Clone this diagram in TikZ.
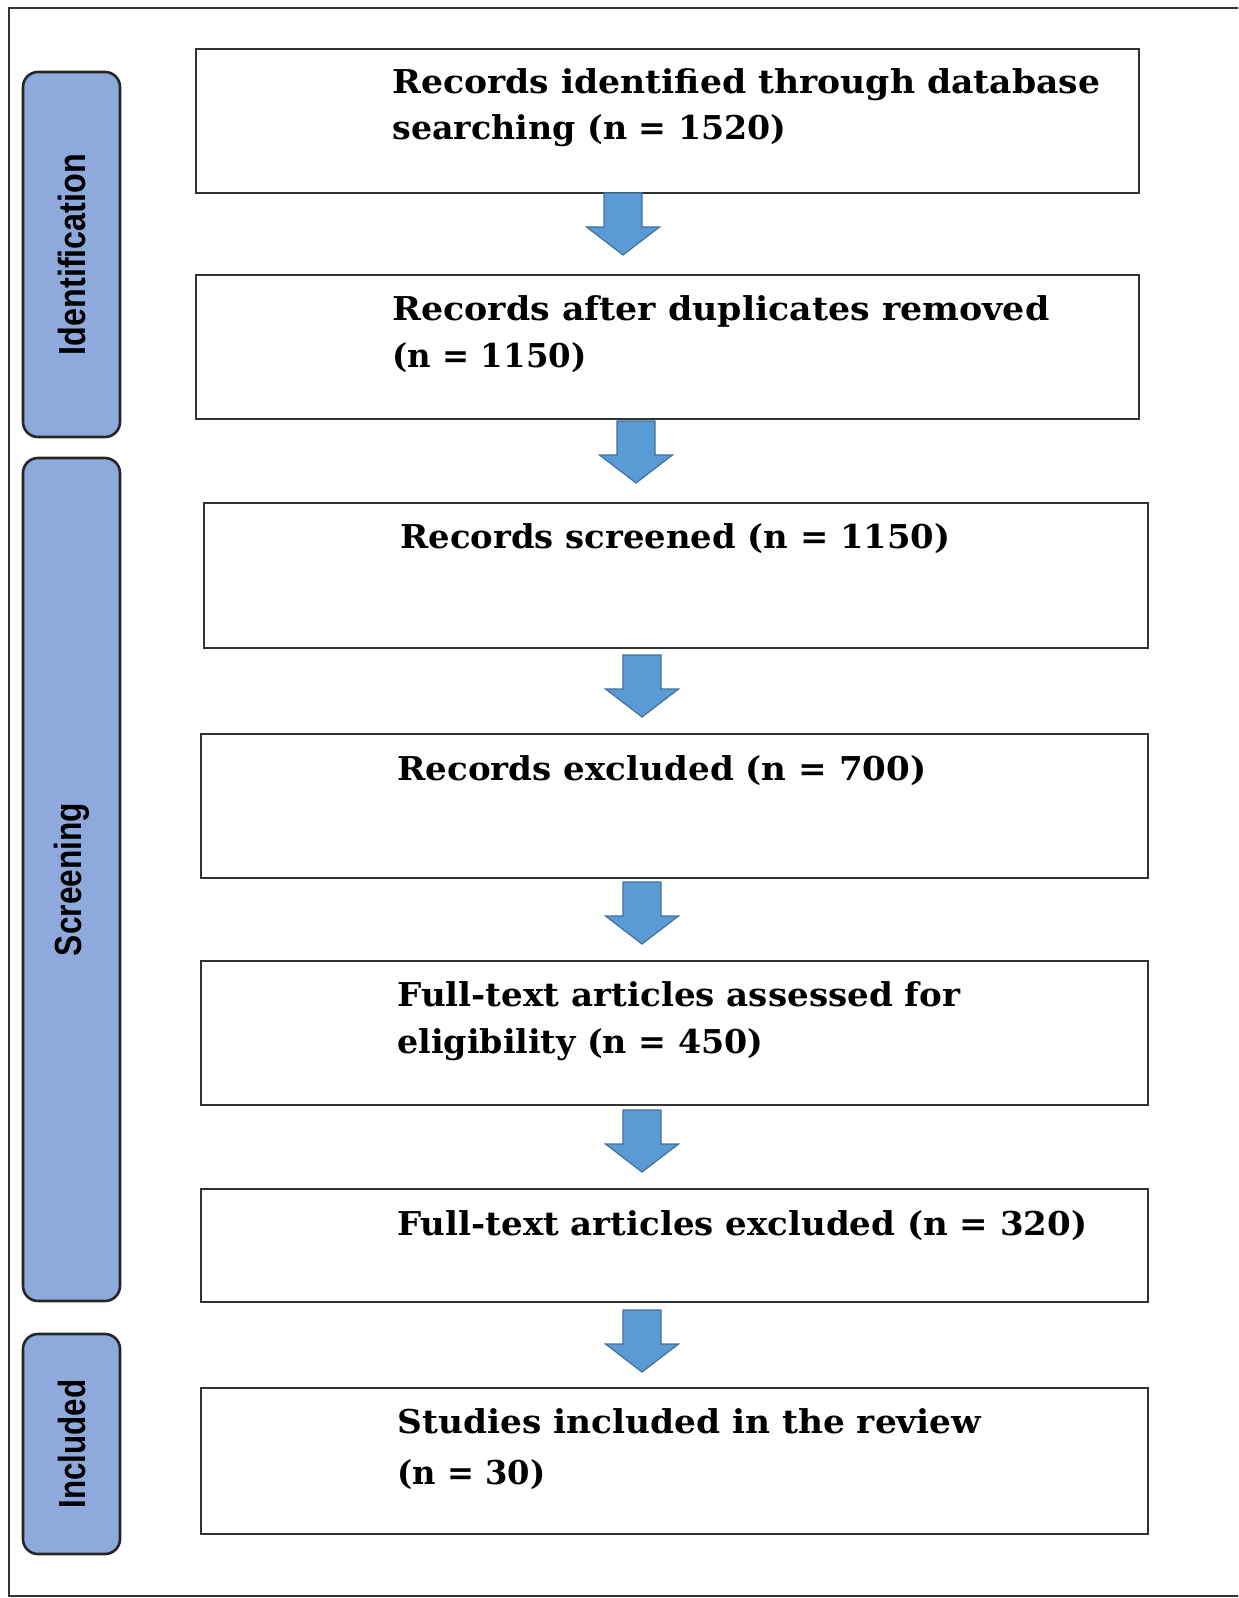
\documentclass[tikz,border=0pt]{standalone}
\usepackage{fontspec}
\usepackage{graphicx}
\setmainfont{DejaVu Serif}
\newfontfamily\sidefont{Liberation Sans}
\definecolor{sidefill}{HTML}{8EA9DB}
\definecolor{arrfill}{HTML}{5B9BD5}
\definecolor{arrline}{HTML}{41719C}
\definecolor{frameline}{HTML}{333333}
\newcommand\fitw[2]{\resizebox{#1pt}{\height}{#2}}
\newcommand\blockarrow[3]{%
  \coordinate (#1) at (#2,#3);
  \draw[blockarr] (#1) ++(-19,0) -- ++(38,0) -- ++(0,34) -- ++(17.5,0)
    -- ++(-36.5,28) -- ++(-36.5,-28) -- ++(17.5,0) -- cycle;}
\begin{document}
\begin{tikzpicture}[x=0.5pt,y=-0.5pt,
  mainbox/.style={draw=frameline, line width=1pt, fill=white, rectangle, inner sep=0pt},
  sidebox/.style={draw=black!85, line width=1.3pt, fill=sidefill, rectangle, rounded corners=7.5pt, inner sep=0pt},
  boxtext/.style={anchor=base west, inner sep=0pt, font=\fontsize{16.4}{19}\selectfont\bfseries},
  sidetext/.style={rotate=90, inner sep=0pt, font=\sidefont\fontsize{18.9}{22}\selectfont\bfseries},
  blockarr/.style={fill=arrfill, draw=arrline, line width=0.6pt, line join=miter}]
\clip (0,0) rectangle (1238,1598);
\fill[white] (0,0) rectangle (1238,1598);
\draw[frameline, line width=1pt] (9,8) rectangle (1260,1596);

% side phase boxes
\node[sidebox, minimum width=48.5pt, minimum height=182.5pt] (sid) at (71.5,254.5) {};
\node[sidebox, minimum width=48.5pt, minimum height=421.5pt] (ssc) at (71.5,879.5) {};
\node[sidebox, minimum width=48.5pt, minimum height=110pt] (sin) at (71.5,1444) {};
\node[sidetext] (lid) at (sid.center) {\fitw{100.5}{Identification}};
\node[sidetext] (lsc) at (ssc.center) {\fitw{76.5}{Screening}};
\node[sidetext] (lin) at (sin.center) {\fitw{64.5}{Included}};

% main boxes
\node[mainbox, minimum width=471.5pt, minimum height=72pt] (b1) at (667.5,121) {};
\node[mainbox, minimum width=471.5pt, minimum height=72pt] (b2) at (667.5,347) {};
\node[mainbox, minimum width=472pt, minimum height=72.5pt] (b3) at (676,575.5) {};
\node[mainbox, minimum width=473.5pt, minimum height=72pt] (b4) at (674.5,806) {};
\node[mainbox, minimum width=473.5pt, minimum height=72pt] (b5) at (674.5,1033) {};
\node[mainbox, minimum width=473.5pt, minimum height=56.5pt] (b6) at (674.5,1245.5) {};
\node[mainbox, minimum width=473.5pt, minimum height=73pt] (b7) at (674.5,1461) {};

% texts
\node[boxtext] (t1a) at (392,94) {\fitw{354}{Records identified through database}};
\node[boxtext] (t1b) at (392,140) {\fitw{197}{searching (n = 1520)}};
\node[boxtext] (t2a) at (392,321) {\fitw{328.5}{Records after duplicates removed}};
\node[boxtext] (t2b) at (392,368) {\fitw{97}{(n = 1150)}};
\node[boxtext] (t3) at (400,549) {\fitw{275}{Records screened (n = 1150)}};
\node[boxtext] (t4) at (397,780) {\fitw{264.5}{Records excluded (n = 700)}};
\node[boxtext] (t5a) at (397,1006) {\fitw{281.5}{Full-text articles assessed for}};
\node[boxtext] (t5b) at (397,1053) {\fitw{183}{eligibility (n = 450)}};
\node[boxtext] (t6) at (397,1235) {\fitw{345}{Full-text articles excluded (n = 320)}};
\node[boxtext] (t7a) at (397,1433) {\fitw{292}{Studies included in the review}};
\node[boxtext] (t7b) at (397,1484) {\fitw{74}{(n = 30)}};

% block arrows
\blockarrow{a1}{623}{193}
\blockarrow{a2}{636}{421}
\blockarrow{a3}{642}{655}
\blockarrow{a4}{642}{882}
\blockarrow{a5}{642}{1110}
\blockarrow{a6}{642}{1310}
\end{tikzpicture}
\end{document}
